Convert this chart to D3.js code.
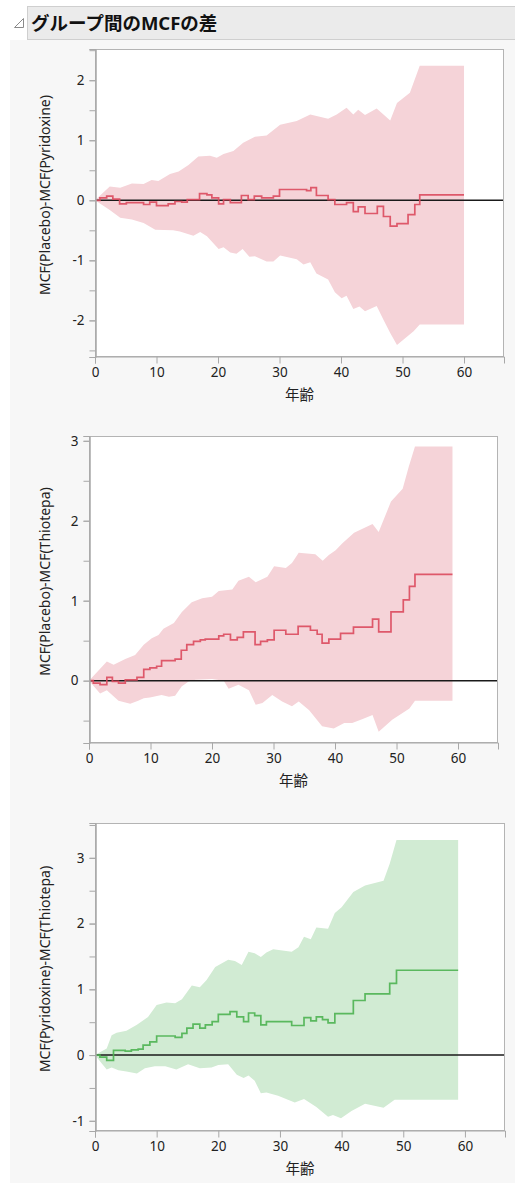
<!DOCTYPE html>
<html><head><meta charset="utf-8">
<script src="https://cdn.jsdelivr.net/npm/d3@7"></script>
<style>
html,body{margin:0;padding:0;background:#fff;}
svg{display:block;}
text{font-family:"Noto Sans","Noto Sans CJK JP",sans-serif;}
</style></head>
<body><svg id="c" width="515" height="1183"></svg>
<script>
// ---------- DATA ----------
const titleText = "グループ間のMCFの差";
const xTickValues = [0, 10, 20, 30, 40, 50, 60];
const xLabel = "年齢";
const yLabels = ["MCF(Placebo)-MCF(Pyridoxine)", "MCF(Placebo)-MCF(Thiotepa)", "MCF(Pyridoxine)-MCF(Thiotepa)"];
const yTicks1 = [-2, -1, 0, 1, 2];
const yTicks2 = [0, 1, 2, 3];
const yTicks3 = [-1, 0, 1, 2, 3];

// Panel 1: Placebo - Pyridoxine
const age1Step = [0,0.8,1.9,2.9,4.0,5.1,7.9,8.9,10.0,11.9,13.0,14.1,15.0,17.0,18.2,19.0,20.1,20.9,22.0,23.8,24.9,25.9,27.1,29.0,30.0,34.4,35.1,36.0,37.9,39.0,40.9,42.0,42.8,43.9,45.9,46.9,48.0,49.1,50.9,52.0,52.8,60];
const diff1 = [0,0.04,0.07,0.02,-0.06,-0.04,-0.07,-0.03,-0.09,-0.06,-0.02,-0.03,0.01,0.11,0.09,0.04,-0.06,0.01,-0.04,0.08,0.01,0.07,0.04,0.07,0.18,0.16,0.21,0.08,0.01,-0.07,-0.04,-0.19,-0.11,-0.22,-0.10,-0.27,-0.43,-0.39,-0.24,-0.07,0.09,0.09];
const age1Upper = [0,2.4,4.1,6.0,7.9,9.2,10.3,12.2,13.6,15.2,16.8,18.7,19.8,20.9,22.5,24.1,26.0,27.9,30.1,32.8,35.0,37.9,39.3,40.9,42.0,42.8,43.9,45.8,46.9,48.0,49.1,51.2,52.8,60];
const upper1 = [0,0.23,0.21,0.28,0.27,0.34,0.32,0.44,0.48,0.59,0.73,0.74,0.71,0.77,0.82,0.96,1.06,1.08,1.26,1.32,1.43,1.36,1.43,1.54,1.43,1.51,1.42,1.53,1.43,1.33,1.62,1.79,2.24,2.24];
const age1Lower = [0,2.4,4.1,6.0,7.9,9.8,12.7,13.8,16.0,17.1,18.2,20.1,20.9,22.0,23.0,24.0,25.1,26.0,27.9,29.0,30.1,32.8,33.9,35.0,36.0,37.9,39.0,40.1,40.9,42.0,43.0,43.9,45.8,46.9,48.0,49.1,51.8,52.8,60];
const lower1 = [0,-0.16,-0.29,-0.32,-0.38,-0.49,-0.50,-0.52,-0.59,-0.53,-0.60,-0.81,-0.78,-0.87,-0.89,-0.81,-0.94,-0.93,-1.02,-1.02,-0.92,-0.98,-1.07,-1.03,-1.22,-1.32,-1.53,-1.63,-1.59,-1.81,-1.77,-1.85,-1.76,-1.99,-2.21,-2.41,-2.18,-2.07,-2.07];

// Panel 2: Placebo - Thiotepa
const age2Step = [0,0.7,1.8,2.9,3.8,4.8,5.9,7.8,8.9,9.9,11.0,11.8,14.0,15.0,15.9,17.0,18.1,18.9,21.1,21.9,23.0,24.1,25.1,27.0,27.9,29.0,30.1,32.0,34.0,36.0,37.1,37.9,39.0,40.9,43.0,46.1,47.1,49.1,51.1,52.1,53.0,59.1];
const diff2 = [0,-0.03,-0.05,0.04,-0.01,-0.03,0.01,0.04,0.14,0.16,0.18,0.25,0.27,0.38,0.45,0.49,0.51,0.52,0.56,0.58,0.51,0.54,0.61,0.45,0.49,0.51,0.63,0.58,0.68,0.63,0.58,0.47,0.52,0.59,0.67,0.77,0.61,0.86,1.01,1.18,1.33,1.33];
const age2Upper = [0,2.9,4.0,5.9,7.5,8.9,10.2,11.3,12.1,13.8,15.1,16.7,18.4,20.0,21.1,23.3,24.3,26.0,27.1,29.0,30.1,32.0,33.0,34.1,36.8,38.0,39.0,40.1,41.2,43.1,46.1,47.1,49.1,51.0,52.0,53.0,59.1];
const upper2 = [0,0.24,0.20,0.27,0.32,0.45,0.53,0.57,0.65,0.72,0.86,0.98,1.03,1.05,1.12,1.14,1.25,1.30,1.23,1.30,1.43,1.41,1.47,1.60,1.58,1.50,1.57,1.63,1.72,1.85,1.96,1.86,2.24,2.40,2.68,2.93,2.93];
const age2Lower = [0,1.8,2.9,4.8,6.7,8.0,8.9,9.9,11.8,13.0,14.0,15.1,16.2,17.3,20.0,21.9,22.7,24.3,26.0,27.1,28.2,29.8,31.4,33.0,34.1,35.8,37.9,39.8,41.5,42.8,44.5,46.1,47.1,49.3,52.1,53.0,59.1];
const lower2 = [0,-0.16,-0.12,-0.25,-0.29,-0.25,-0.22,-0.21,-0.18,-0.20,-0.19,-0.07,-0.01,0.01,0.02,0,-0.10,-0.05,-0.12,-0.30,-0.28,-0.18,-0.26,-0.32,-0.26,-0.37,-0.57,-0.60,-0.53,-0.53,-0.48,-0.43,-0.64,-0.49,-0.35,-0.25,-0.25];

// Panel 3: Pyridoxine - Thiotepa
const age3Step = [0,0.8,1.9,3.0,4.9,5.9,7.0,7.8,8.9,10.0,13.0,14.1,14.9,15.9,17.0,17.9,19.0,20.0,21.9,23.0,24.1,24.9,25.9,26.9,27.8,31.9,33.9,35.0,35.9,36.9,37.8,38.9,41.9,43.8,47.8,48.9,58.9];
const diff3 = [0,-0.03,-0.08,0.07,0.06,0.08,0.09,0.15,0.20,0.29,0.27,0.33,0.41,0.47,0.41,0.46,0.51,0.62,0.66,0.58,0.51,0.64,0.60,0.46,0.51,0.45,0.57,0.52,0.58,0.54,0.49,0.63,0.83,0.93,1.09,1.29,1.29];
const age3Upper = [0,1.9,2.7,3.5,5.1,6.8,8.6,10.0,11.6,13.0,14.1,15.7,17.0,18.1,19.5,21.6,22.7,23.8,24.9,25.9,26.9,27.8,28.9,31.9,33.0,33.9,35.0,35.9,37.8,38.9,40.0,41.9,43.8,46.8,47.8,48.9,58.9];
const upper3 = [0,0.10,0.30,0.34,0.37,0.46,0.58,0.76,0.80,0.79,0.85,1.06,1.03,1.14,1.34,1.45,1.43,1.37,1.57,1.55,1.49,1.56,1.61,1.57,1.64,1.80,1.76,1.94,1.92,2.16,2.25,2.48,2.58,2.65,2.91,3.27,3.27];
const age3Lower = [0,1.1,1.9,2.7,3.8,5.1,6.8,8.1,9.7,11.4,13.2,15.1,17.0,18.9,20.0,21.6,23.0,24.1,24.9,25.9,26.9,27.8,29.7,32.4,33.9,35.9,37.8,38.6,39.9,41.6,43.8,46.8,48.6,58.9];
const lower3 = [0,-0.13,-0.22,-0.19,-0.23,-0.25,-0.28,-0.20,-0.17,-0.17,-0.22,-0.14,-0.20,-0.19,-0.15,-0.14,-0.30,-0.35,-0.31,-0.39,-0.58,-0.57,-0.62,-0.72,-0.67,-0.79,-0.94,-0.91,-0.96,-0.85,-0.74,-0.80,-0.68,-0.68];

// ---------- DRAW ----------
const svg = d3.select("#c");
svg.append("rect").attr("x",10).attr("y",40).attr("width",505).attr("height",1143).attr("fill","#f7f7f7");
// header
svg.append("rect").attr("x",27.5).attr("y",6.5).attr("width",490).attr("height",33).attr("fill","#ebebeb").attr("stroke","#cfcfcf");
svg.append("path").attr("d","M14.5,27.5 L23.5,27.5 L23.5,18.5 Z").attr("fill","#fff").attr("stroke","#8a8a8a").attr("stroke-width",1);
svg.append("text").attr("x",31).attr("y",29.5).attr("font-size",18.5).attr("font-weight","bold")
  .attr("font-family","'Noto Sans CJK JP',sans-serif").attr("fill","#111").text(titleText);

const zip = (a,b) => a.map((t,i)=>[t,b[i]]);

const panels = [
  {rect:[95,49,504,357], yDom:[-2.61,2.52], yTicks:yTicks1, minor:d3.range(-2.5,2.51,0.5), label:yLabels[0],
   step:zip(age1Step,diff1), up:zip(age1Upper,upper1), lo:zip(age1Lower,lower1), fill:"#f5d3d8", line:"#dc4a5e"},
  {rect:[89,436,498,743], yDom:[-0.78,3.06], yTicks:yTicks2, minor:d3.range(-0.5,3.01,0.5), label:yLabels[1],
   step:zip(age2Step,diff2), up:zip(age2Upper,upper2), lo:zip(age2Lower,lower2), fill:"#f5d3d8", line:"#dc4a5e"},
  {rect:[95,823,505,1131], yDom:[-1.155,3.53], yTicks:yTicks3, minor:d3.range(-1,3.51,0.5), label:yLabels[2],
   step:zip(age3Step,diff3), up:zip(age3Upper,upper3), lo:zip(age3Lower,lower3), fill:"#d1ebd3", line:"#4db351"}
];

panels.forEach((p,i)=>{
  const [x0,y0,x1,y1] = p.rect;
  const x = d3.scaleLinear().domain([0,66.5]).range([x0,x1]);
  const y = d3.scaleLinear().domain(p.yDom).range([y1,y0]);
  const g = svg.append("g");
  g.append("rect").attr("x",x0).attr("y",y0).attr("width",x1-x0).attr("height",y1-y0).attr("fill","#fff");
  const cid = "clip"+i;
  svg.append("clipPath").attr("id",cid).append("rect").attr("x",x0).attr("y",y0).attr("width",x1-x0).attr("height",y1-y0);
  const pg = g.append("g").attr("clip-path",`url(#${cid})`);
  const poly = p.up.concat(p.lo.slice().reverse());
  pg.append("path").attr("d", d3.line().x(d=>x(d[0])).y(d=>y(d[1]))(poly)+"Z").attr("fill",p.fill);
  pg.append("line").attr("x1",x0).attr("x2",x1).attr("y1",y(0)).attr("y2",y(0)).attr("stroke","#1a1a1a").attr("stroke-width",1.5);
  pg.append("path").attr("d", d3.line().curve(d3.curveStepAfter).x(d=>x(d[0])).y(d=>y(d[1]))(p.step))
    .attr("fill","none").attr("stroke",p.line).attr("stroke-width",1.7).attr("stroke-opacity",0.9);
  // frame
  g.append("rect").attr("x",x0+0.5).attr("y",y0+0.5).attr("width",x1-x0-1).attr("height",y1-y0-1)
    .attr("fill","none").attr("stroke","#b4b4b4");
  // y axis
  const ya = g.append("g").attr("transform",`translate(${x0+0.5},0)`)
    .call(d3.axisLeft(y).tickValues(p.yTicks).tickSize(6).tickPadding(5).tickFormat(d3.format("d")));
  const ym = g.append("g").attr("transform",`translate(${x0+0.5},0)`)
    .call(d3.axisLeft(y).tickValues(p.minor).tickSize(6).tickFormat(""));
  // x axis
  const xa = g.append("g").attr("transform",`translate(0,${y1-0.5})`)
    .call(d3.axisBottom(x).tickValues(xTickValues).tickSize(7).tickPadding(4));
  [ya,ym,xa].forEach(a=>{
    a.select(".domain").attr("stroke","#a8a8a8");
    a.selectAll(".tick line").attr("stroke","#a8a8a8");
    a.selectAll("text").attr("font-size",13.5).attr("fill","#222").attr("font-family","'Noto Sans',sans-serif");
  });
  ya.selectAll("text").text(d=> d<0 ? "-"+Math.abs(d) : d);
  // axis titles
  g.append("text").attr("x",(x0+x1)/2).attr("y",y1+43).attr("text-anchor","middle")
    .attr("font-size",14.5).attr("fill","#222").attr("font-family","'Noto Sans CJK JP',sans-serif").text(xLabel);
  g.append("text").attr("transform",`translate(50,${(y0+y1)/2 - 8}) rotate(-90)`).attr("text-anchor","middle")
    .attr("font-size",14).attr("fill","#222").text(p.label);
});
</script></body></html>
